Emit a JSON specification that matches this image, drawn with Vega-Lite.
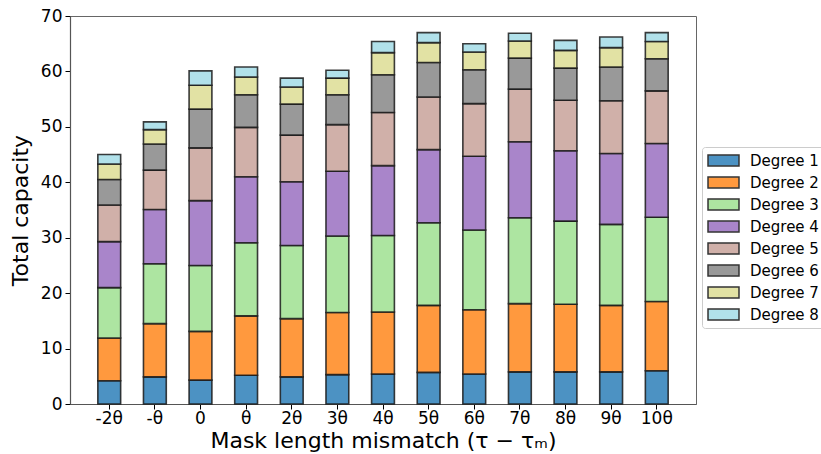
{
  "$schema": "https://vega.github.io/schema/vega-lite/v6.json",
  "width": 626,
  "height": 388,
  "autosize": {"type": "none"},
  "padding": {"left": 70, "top": 16, "right": 125, "bottom": 50},
  "background": "white",
  "config": {
    "font": "DejaVu Sans",
    "view": {"stroke": "#666", "strokeWidth": 1},
    "axis": {"grid": false, "domainColor": "#555", "tickColor": "black", "labelColor": "black", "titleColor": "black", "labelFont": "DejaVu Sans", "titleFont": "DejaVu Sans", "titleFontWeight": "normal", "labelFontSize": 17, "titleFontSize": 22, "tickSize": 5, "domainWidth": 1.2}
  },
  "data": {"values": [
    {"x":"-2θ","d":"Degree 1","o":1,"v":4.2},{"x":"-2θ","d":"Degree 2","o":2,"v":7.7},{"x":"-2θ","d":"Degree 3","o":3,"v":9.1},{"x":"-2θ","d":"Degree 4","o":4,"v":8.3},{"x":"-2θ","d":"Degree 5","o":5,"v":6.6},{"x":"-2θ","d":"Degree 6","o":6,"v":4.6},{"x":"-2θ","d":"Degree 7","o":7,"v":2.8},{"x":"-2θ","d":"Degree 8","o":8,"v":1.7},
    {"x":"-θ","d":"Degree 1","o":1,"v":4.9},{"x":"-θ","d":"Degree 2","o":2,"v":9.6},{"x":"-θ","d":"Degree 3","o":3,"v":10.8},{"x":"-θ","d":"Degree 4","o":4,"v":9.8},{"x":"-θ","d":"Degree 5","o":5,"v":7.1},{"x":"-θ","d":"Degree 6","o":6,"v":4.7},{"x":"-θ","d":"Degree 7","o":7,"v":2.6},{"x":"-θ","d":"Degree 8","o":8,"v":1.4},
    {"x":"0","d":"Degree 1","o":1,"v":4.3},{"x":"0","d":"Degree 2","o":2,"v":8.8},{"x":"0","d":"Degree 3","o":3,"v":11.9},{"x":"0","d":"Degree 4","o":4,"v":11.7},{"x":"0","d":"Degree 5","o":5,"v":9.5},{"x":"0","d":"Degree 6","o":6,"v":7.0},{"x":"0","d":"Degree 7","o":7,"v":4.3},{"x":"0","d":"Degree 8","o":8,"v":2.6},
    {"x":"θ","d":"Degree 1","o":1,"v":5.2},{"x":"θ","d":"Degree 2","o":2,"v":10.7},{"x":"θ","d":"Degree 3","o":3,"v":13.2},{"x":"θ","d":"Degree 4","o":4,"v":11.9},{"x":"θ","d":"Degree 5","o":5,"v":8.9},{"x":"θ","d":"Degree 6","o":6,"v":5.9},{"x":"θ","d":"Degree 7","o":7,"v":3.2},{"x":"θ","d":"Degree 8","o":8,"v":1.8},
    {"x":"2θ","d":"Degree 1","o":1,"v":4.9},{"x":"2θ","d":"Degree 2","o":2,"v":10.5},{"x":"2θ","d":"Degree 3","o":3,"v":13.2},{"x":"2θ","d":"Degree 4","o":4,"v":11.5},{"x":"2θ","d":"Degree 5","o":5,"v":8.4},{"x":"2θ","d":"Degree 6","o":6,"v":5.6},{"x":"2θ","d":"Degree 7","o":7,"v":3.1},{"x":"2θ","d":"Degree 8","o":8,"v":1.6},
    {"x":"3θ","d":"Degree 1","o":1,"v":5.3},{"x":"3θ","d":"Degree 2","o":2,"v":11.2},{"x":"3θ","d":"Degree 3","o":3,"v":13.8},{"x":"3θ","d":"Degree 4","o":4,"v":11.7},{"x":"3θ","d":"Degree 5","o":5,"v":8.4},{"x":"3θ","d":"Degree 6","o":6,"v":5.4},{"x":"3θ","d":"Degree 7","o":7,"v":3.0},{"x":"3θ","d":"Degree 8","o":8,"v":1.4},
    {"x":"4θ","d":"Degree 1","o":1,"v":5.4},{"x":"4θ","d":"Degree 2","o":2,"v":11.2},{"x":"4θ","d":"Degree 3","o":3,"v":13.8},{"x":"4θ","d":"Degree 4","o":4,"v":12.6},{"x":"4θ","d":"Degree 5","o":5,"v":9.6},{"x":"4θ","d":"Degree 6","o":6,"v":6.8},{"x":"4θ","d":"Degree 7","o":7,"v":4.0},{"x":"4θ","d":"Degree 8","o":8,"v":2.0},
    {"x":"5θ","d":"Degree 1","o":1,"v":5.7},{"x":"5θ","d":"Degree 2","o":2,"v":12.1},{"x":"5θ","d":"Degree 3","o":3,"v":14.9},{"x":"5θ","d":"Degree 4","o":4,"v":13.2},{"x":"5θ","d":"Degree 5","o":5,"v":9.5},{"x":"5θ","d":"Degree 6","o":6,"v":6.2},{"x":"5θ","d":"Degree 7","o":7,"v":3.6},{"x":"5θ","d":"Degree 8","o":8,"v":1.8},
    {"x":"6θ","d":"Degree 1","o":1,"v":5.4},{"x":"6θ","d":"Degree 2","o":2,"v":11.6},{"x":"6θ","d":"Degree 3","o":3,"v":14.4},{"x":"6θ","d":"Degree 4","o":4,"v":13.3},{"x":"6θ","d":"Degree 5","o":5,"v":9.5},{"x":"6θ","d":"Degree 6","o":6,"v":6.1},{"x":"6θ","d":"Degree 7","o":7,"v":3.2},{"x":"6θ","d":"Degree 8","o":8,"v":1.5},
    {"x":"7θ","d":"Degree 1","o":1,"v":5.8},{"x":"7θ","d":"Degree 2","o":2,"v":12.3},{"x":"7θ","d":"Degree 3","o":3,"v":15.5},{"x":"7θ","d":"Degree 4","o":4,"v":13.7},{"x":"7θ","d":"Degree 5","o":5,"v":9.5},{"x":"7θ","d":"Degree 6","o":6,"v":5.6},{"x":"7θ","d":"Degree 7","o":7,"v":3.1},{"x":"7θ","d":"Degree 8","o":8,"v":1.4},
    {"x":"8θ","d":"Degree 1","o":1,"v":5.8},{"x":"8θ","d":"Degree 2","o":2,"v":12.2},{"x":"8θ","d":"Degree 3","o":3,"v":15.0},{"x":"8θ","d":"Degree 4","o":4,"v":12.7},{"x":"8θ","d":"Degree 5","o":5,"v":9.1},{"x":"8θ","d":"Degree 6","o":6,"v":5.8},{"x":"8θ","d":"Degree 7","o":7,"v":3.2},{"x":"8θ","d":"Degree 8","o":8,"v":1.8},
    {"x":"9θ","d":"Degree 1","o":1,"v":5.8},{"x":"9θ","d":"Degree 2","o":2,"v":12.0},{"x":"9θ","d":"Degree 3","o":3,"v":14.6},{"x":"9θ","d":"Degree 4","o":4,"v":12.8},{"x":"9θ","d":"Degree 5","o":5,"v":9.5},{"x":"9θ","d":"Degree 6","o":6,"v":6.1},{"x":"9θ","d":"Degree 7","o":7,"v":3.5},{"x":"9θ","d":"Degree 8","o":8,"v":1.9},
    {"x":"10θ","d":"Degree 1","o":1,"v":6.0},{"x":"10θ","d":"Degree 2","o":2,"v":12.5},{"x":"10θ","d":"Degree 3","o":3,"v":15.2},{"x":"10θ","d":"Degree 4","o":4,"v":13.3},{"x":"10θ","d":"Degree 5","o":5,"v":9.5},{"x":"10θ","d":"Degree 6","o":6,"v":5.8},{"x":"10θ","d":"Degree 7","o":7,"v":3.1},{"x":"10θ","d":"Degree 8","o":8,"v":1.6}
  ]},
  "mark": {"type": "bar", "stroke": "#1a1a1a", "strokeWidth": 1.6, "strokeOpacity": 0.85},
  "encoding": {
    "x": {
      "field": "x", "type": "ordinal", "sort": null,
      "scale": {"paddingInner": 0.5, "paddingOuter": 0.61},
      "axis": {"labelAngle": 0, "title": "Mask length mismatch (τ − τₘ)", "titlePadding": 4, "labelPadding": 1}
    },
    "y": {
      "field": "v", "type": "quantitative", "stack": "zero",
      "scale": {"domain": [0, 70], "nice": false},
      "axis": {"values": [0,10,20,30,40,50,60,70], "title": "Total capacity", "titlePadding": 8, "labelPadding": 3}
    },
    "order": {"field": "o", "type": "quantitative", "sort": "ascending"},
    "color": {
      "field": "d", "type": "nominal",
      "scale": {
        "domain": ["Degree 1","Degree 2","Degree 3","Degree 4","Degree 5","Degree 6","Degree 7","Degree 8"],
        "range": ["#4c92c3","#ff993e","#ade5a1","#a985ca","#d0b0a9","#999999","#e2e2a4","#b1e1ea"]
      },
      "legend": {
        "title": null, "orient": "none", "legendX": 632, "legendY": 131,
        "symbolType": "M-2,-0.7L2,-0.7L2,0.7L-2,0.7Z", "symbolSize": 240, "symbolOffset": 8,
        "symbolStrokeColor": "#333", "symbolStrokeWidth": 1.5,
        "labelFontSize": 15, "labelFont": "DejaVu Sans", "labelColor": "black",
        "rowPadding": 5, "labelOffset": 18,
        "strokeColor": "#ccc", "fillColor": "white", "cornerRadius": 3, "padding": 5
      }
    }
  }
}
